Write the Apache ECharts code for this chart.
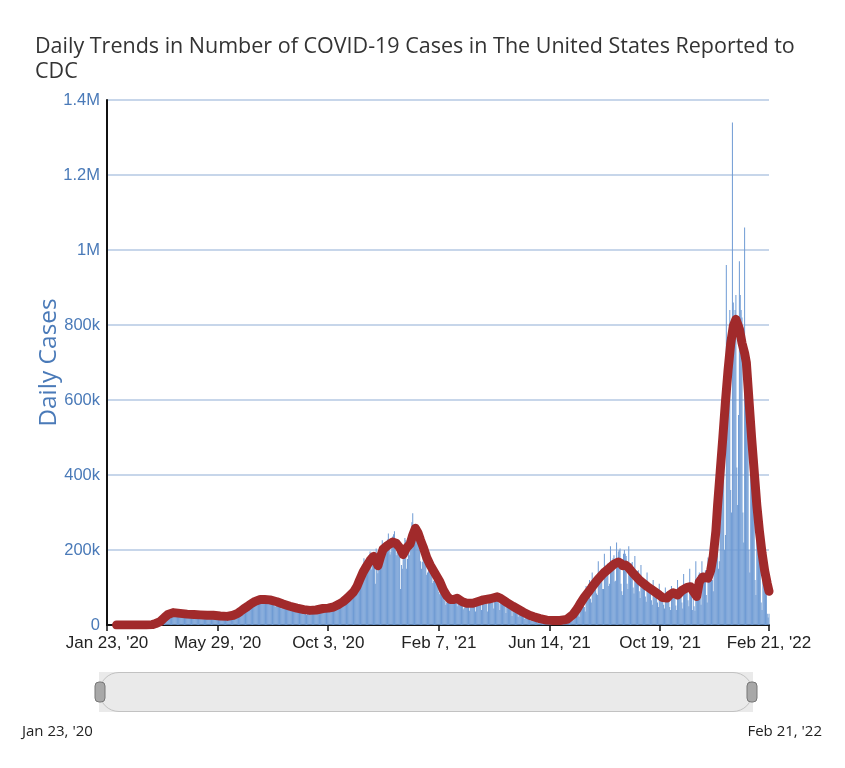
<!DOCTYPE html>
<html>
<head>
<meta charset="utf-8">
<script src="https://cdn.jsdelivr.net/npm/echarts@6/dist/echarts.min.js"></script>
<style>html,body{margin:0;padding:0;background:#fff}#c{width:845px;height:768px}</style>
</head>
<body>
<div id="c"></div>
<script>
// Daily reported cases, thousands. Day 0 = Jan 23, 2020.
const cases2020 = [
  0,0,0,0,0,0,0,0,0,
  0,0,0,0,0,0,0,0,0,0,0,0,0,0,0,0,0,0,0,0,0,0,0,0,0,0,0,0,0,
  0,0,0,0,0,0,0.1,0.1,0.2,0.3, 0.4,0.5,0.8,0.9,1.2,1.8,2.5,4,5.5,7, 8,9,11,12,17,18,20,19,21,24,26,
  28,31,33,30,27,26,30, 33,34,35,32,28,26,29, 30,31,33,30,27,26,28, 29,31,33,30,27,24,27, 28,30,
  30,28,25,22,24,25,28, 28,26,22,20,22,24,27, 27,25,21,20,22,23,26, 26,24,20,19,20,21,24, 25,24,21,
  18,21,22,24,25,24,20, 19,22,23,25,26,25,22, 20,24,26,29,31,32,27, 28,33,37,40,44,42,36, 39,44,
  50,54,56,48,44,46,54, 60,62,68,64,58,55,60, 66,72,76,68,62,58,62, 68,72,74,66,60,56,60, 66,68,68,
  60,52,48,52,55,58,62, 56,48,44,50,52,53,56, 52,44,40,44,46,48,50, 47,40,37,41,43,45,47, 44,38,34,
  40,42,44,46,42,34,30, 27,33,36,40,43,40,33, 37,39,43,47,44,36,32, 39,41,44,48,45,37,34, 40,42,
  46,52,48,37,38,44,48, 54,56,52,45,42,50,56, 64,68,60,50,54,62,66, 74,80,78,62,64,72,78, 88,96,90,
  78,84,92,102,118,128,126, 108,118,134,142,158,178,168, 136,150,160,170,186,196,176, 148,160,172,182,110,204,156, 138,160,
  180,200,212,226,214,180,188, 214,222,228,244,222,188,196, 208,236,242,250,200,186,194, 200,226,182,96,160,150,176, 196,232,226
];
const cases2021 = [
  150,176,196,186,232,250,274, 298,262,228,232,238,242,246, 240,200,170,150,168,182,190, 188,168,134,140,146,152,156, 164,138,112,
  118,120,122,124,134,110,88, 82,94,96,104,104,84,64, 54,60,70,72,78,72,56, 58,70,74,76,78,62,50,
  56,58,66,68,66,58,42, 46,56,58,60,66,52,38, 50,54,58,62,64,52,36, 52,54,62,66,74,56,40, 60,60,68,
  76,72,56,36,58,70,74, 80,82,62,44,62,76,76, 78,80,58,40,60,66,66, 70,70,50,32,52,56,58, 62,60,
  44,24,44,46,48,50,52, 40,22,38,40,44,42,44, 30,16,34,32,34,34,36, 24,12,26,24,26,26,24, 12,8,6,
  14,18,20,22,10,6,14, 14,16,18,18,8,5,12, 12,14,16,18,7,4,11, 12,14,14,16,6,4,14, 14,16,
  18,14,8,6,8,26,22, 26,28,16,12,34,32,34, 44,48,30,22,62,56,60, 70,80,48,36,104,90,96, 110,120,70,
  60,140,112,114,120,128,84, 80,170,134,132,140,150,96, 96,190,150,150,156,164,104, 110,210,168,170,178,186,116, 118,220,178,
  196,200,204,110,90,80,190, 200,190,184,110,96,210,160, 160,164,168,100,84,184,140, 140,144,146,90,72,160,120, 124,126,
  120,76,62,140,100,106,110, 108,66,54,120,104,92,96, 94,60,48,110,82,80,84, 84,54,44,100,74,72,76, 76,48,40,
  104,76,80,82,84,52,40, 120,84,88,76,96,60,44, 136,100,104,106,112,66,50, 150,112,110,40,70,50,38, 170,120,
  128,134,140,70,54,170,130, 134,136,146,80,60,180,170, 190,200,220,120,90,300,330, 330,380,300,150,170,480,440, 520,580,560
];
const cases2022 = [
  200,240,960,760,700,780,840, 360,300,1340,860,800,840,880, 420,320,560,970,880,840,820, 300,220,1060,640,600,580,560, 200,140,620,
  480,420,400,380,120,80,400, 260,240,220,200,60,40,200, 130,120,110,100,30,20,30
];
// 7-day average (thousands) read at given day indices
const avgDays = [11,45,52,56,61,66,70,76,84,92,100,107,115,122,130,138,145,150,153,157,161,165,170,176,181,187,195,202,210,218,226,233,240,248,254,260,266,271,276,283,287,290,294,298,302,306,308,311,314,317,322,328,332,336,340,344,348,351,354,357,360,363,367,371,374,379,382,386,390,394,398,402,408,413,420,428,432,440,448,452,459,466,472,478,485,490,497,505,512,520,528,535,540,543,548,554,558,563,570,577,582,587,590,592,595,598,604,612,620,628,634,638,643,646,650,655,660,666,670,673,677,680,684,690,693,696,699,701,704,707,710,713,716,719,722,724,726,729,732,734,737,740,743,746,749,752,755,758,760];
const avgValues = [0,0,1,4,9,20,28,33,31,29,28,27,26,26,24,23,26,31,36,43,49,56,63,68,68,67,62,56,50,45,41,39,40,44,45,48,55,62,72,88,103,120,141,157,172,183,176,158,182,202,212,221,218,206,188,206,216,240,258,246,226,208,180,160,148,128,116,94,78,68,68,71,62,58,58,64,67,70,75,71,60,50,42,34,26,22,17,13,12,12,15,28,44,56,74,92,105,120,138,152,162,168,164,158,160,155,138,118,103,90,80,73,72,80,86,80,92,100,102,90,76,115,128,125,145,184,250,320,410,500,595,680,750,797,815,818,790,752,725,700,600,500,410,320,250,192,145,110,90];
const tickDays = [0,127,254,381,508,635,760];
const tickLabels = ["Jan 23, '20","May 29, '20","Oct 3, '20","Feb 7, '21","Jun 14, '21","Oct 19, '21","Feb 21, '22"];

const cases = [].concat(cases2020, cases2021, cases2022);
const barData = cases.map((v, i) => [i, v * 1000]);
const lineData = avgDays.map((d, i) => [d, avgValues[i] * 1000]);

const chart = echarts.init(document.getElementById('c'));
chart.setOption({
  animation: false,
  backgroundColor: '#fff',
  title: {
    text: "Daily Trends in Number of COVID-19 Cases in The United States Reported to\nCDC",
    left: 30, top: 29,
    textStyle: { fontFamily: 'Open Sans', fontSize: 21.5, fontWeight: 'normal', color: '#333', lineHeight: 25 }
  },
  grid: { left: 107, right: 76, top: 100, bottom: 143, containLabel: false },
  xAxis: {
    type: 'value', min: 0, max: 760,
    axisLine: { show: true, onZero: false, lineStyle: { color: '#111', width: 2 } },
    axisTick: { show: true, customValues: tickDays, length: 6, lineStyle: { color: '#111', width: 1.5 } },
    axisLabel: {
      customValues: tickDays, margin: 10,
      formatter: v => tickLabels[tickDays.indexOf(v)] || '',
      fontFamily: 'Liberation Sans', fontSize: 17, color: '#222'
    },
    splitLine: { show: false }
  },
  yAxis: {
    type: 'value', min: 0, max: 1400000, interval: 200000,
    name: 'Daily Cases', nameLocation: 'middle', nameGap: 45, nameMoveOverlap: false,
    nameTextStyle: { fontFamily: 'Open Sans', fontSize: 24.5, color: '#4a7ab8' },
    axisLine: { show: true, lineStyle: { color: '#111', width: 2 } },
    axisTick: { show: false },
    axisLabel: {
      margin: 7, fontFamily: 'Liberation Sans', fontSize: 16.5, color: '#4a7ab8',
      formatter: v => v === 0 ? '0' : (v >= 1000000 ? (v / 1000000) + 'M' : (v / 1000) + 'k')
    },
    splitLine: { show: true, lineStyle: { color: '#b5c8e3', width: 1.5 } }
  },
  dataZoom: [{
    type: 'slider', xAxisIndex: 0, filterMode: 'none',
    left: 98, right: 93, top: 672, height: 40,
    start: 0, end: 100,
    showDetail: false, showDataShadow: false, brushSelect: false, moveHandleSize: 0,
    backgroundColor: '#e9e9e9', borderColor: '#c2c2c2', borderRadius: 20,
    fillerColor: 'rgba(235,235,235,0.4)',
    handleIcon: 'path://M4,0 h2 a4,4 0 0 1 4,4 v12 a4,4 0 0 1 -4,4 h-2 a4,4 0 0 1 -4,-4 v-12 a4,4 0 0 1 4,-4 z',
    handleSize: '50%',
    handleStyle: { color: '#a8a8a8', borderColor: '#777', borderWidth: 1 }
  }],
  graphic: [
    { type: 'text', left: 22, top: 724, style: { text: "Jan 23, '20", font: '15px "Open Sans"', fill: '#222' } },
    { type: 'text', right: 23, top: 724, style: { text: "Feb 21, '22", font: '15px "Open Sans"', fill: '#222' } }
  ],
  series: [
    {
      type: 'bar', data: barData, barWidth: 0.75,
      itemStyle: { color: '#6f9bd4' }, clip: true, z: 2
    },
    {
      type: 'line', data: lineData, showSymbol: false, symbol: 'none', smooth: false,
      lineStyle: { color: '#a12a2b', width: 9, cap: 'round', join: 'round' }, z: 3
    }
  ]
});
</script>
</body>
</html>
